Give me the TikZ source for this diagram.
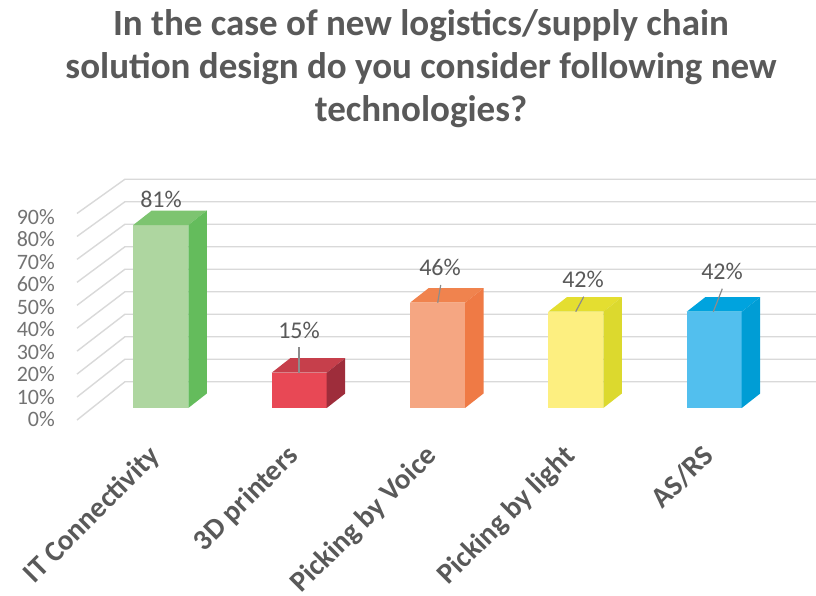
\documentclass[tikz,border=0pt]{standalone}
\usepackage{fontspec}
\setmainfont{Carlito}
\definecolor{gridgray}{HTML}{D9D9D9}
\definecolor{titlegray}{HTML}{595959}
\definecolor{axisgray}{HTML}{737373}
\definecolor{leadgray}{HTML}{8C8C8C}
\definecolor{gFront}{HTML}{AED6A0}
\definecolor{gTop}{HTML}{7DC470}
\definecolor{gSide}{HTML}{64BC5C}
\definecolor{rFront}{HTML}{E84855}
\definecolor{rTop}{HTML}{C63F4B}
\definecolor{rSide}{HTML}{9E2D3B}
\definecolor{oFront}{HTML}{F5A682}
\definecolor{oTop}{HTML}{F0834E}
\definecolor{oSide}{HTML}{EF7A45}
\definecolor{yFront}{HTML}{FDEF80}
\definecolor{yTop}{HTML}{E4DE30}
\definecolor{ySide}{HTML}{DCD92E}
\definecolor{bFront}{HTML}{52BFEE}
\definecolor{bTop}{HTML}{00A3DE}
\definecolor{bSide}{HTML}{009DD5}
\newcommand\drawbar[5]{%
  \fill[#3] (#1,#2) rectangle ({#1+55},408);
  \fill[#4] (#1,#2) -- ({#1+18.5},{#2-14.5}) -- ({#1+73.5},{#2-14.5}) -- ({#1+55},#2) -- cycle;
  \fill[#5] ({#1+55},408) -- ({#1+73.5},393.5) -- ({#1+73.5},{#2-14.5}) -- ({#1+55},#2) -- cycle;
}
\begin{document}
\begin{tikzpicture}[x=1pt,y=-1pt,
  gridline/.style={draw=gridgray, line width=1.4pt, line join=round},
  titletext/.style={font=\fontsize{37}{43}\selectfont\bfseries, text=titlegray, inner sep=0pt, anchor=base},
  axislabel/.style={font=\fontsize{22}{26}\selectfont, text=axisgray, inner sep=0pt, anchor=east},
  datalabel/.style={font=\fontsize{24}{28}\selectfont, text=titlegray, inner sep=0pt},
  catlabel/.style={font=\fontsize{29}{33}\selectfont\bfseries, text=titlegray, inner sep=0pt, anchor=north east, rotate=45},
  leader/.style={draw=leadgray, line width=1.2pt}]
\useasboundingbox (0,0) rectangle (816,595);
\fill[white] (0,0) rectangle (816,595);
% title
\node[titletext] (t1) at (421,35) {In the case of new logistics/supply chain};
\node[titletext] (t2) at (421,78) {solution design do you consider following new};
\node[titletext] (t3) at (421,121) {technologies?};
% gridlines (floor diagonals + back wall)
\foreach \k in {0,...,9}{
  \draw[gridline] (77,{420-22.95*\k}) -- (125,{381.7-22.5*\k}) -- (816,{381.7-22.5*\k});
}
% axis labels
\foreach \k/\lab in {0/0\%,1/10\%,2/20\%,3/30\%,4/40\%,5/50\%,6/60\%,7/70\%,8/80\%,9/90\%}{
  \node[axislabel] (ax\k) at (55,{419.3-22.5*\k}) {\lab};
}
% bars
\drawbar{133.3}{225}{gFront}{gTop}{gSide}
\drawbar{271.7}{372.7}{rFront}{rTop}{rSide}
\drawbar{410}{302.7}{oFront}{oTop}{oSide}
\drawbar{548.3}{311.7}{yFront}{yTop}{ySide}
\drawbar{686.7}{311.7}{bFront}{bTop}{bSide}
% data labels
\node[datalabel] (d1) at (161,199) {81\%};
\node[datalabel] (d2) at (299,330) {15\%};
\node[datalabel] (d3) at (440,267) {46\%};
\node[datalabel] (d4) at (583,279) {42\%};
\node[datalabel] (d5) at (722,271) {42\%};
% leader lines
\coordinate (l2a) at (299,347);   \coordinate (l2b) at (299,373);
\coordinate (l3a) at (440.7,285); \coordinate (l3b) at (437.7,302.7);
\coordinate (l4a) at (583.7,296.7); \coordinate (l4b) at (575.7,311.7);
\coordinate (l5a) at (722.3,288.7); \coordinate (l5b) at (713.3,311.7);
\draw[leader] (l2a) -- (l2b);
\draw[leader] (l3a) -- (l3b);
\draw[leader] (l4a) -- (l4b);
\draw[leader] (l5a) -- (l5b);
% category labels
\node[catlabel] (c1) at (147,443) {IT Connectivity};
\node[catlabel] (c2) at (285,443) {3D printers};
\node[catlabel] (c3) at (423.5,443) {Picking by Voice};
\node[catlabel] (c4) at (562,443) {Picking by light};
\node[catlabel] (c5) at (700.5,443) {AS/RS};
\end{tikzpicture}
\end{document}
